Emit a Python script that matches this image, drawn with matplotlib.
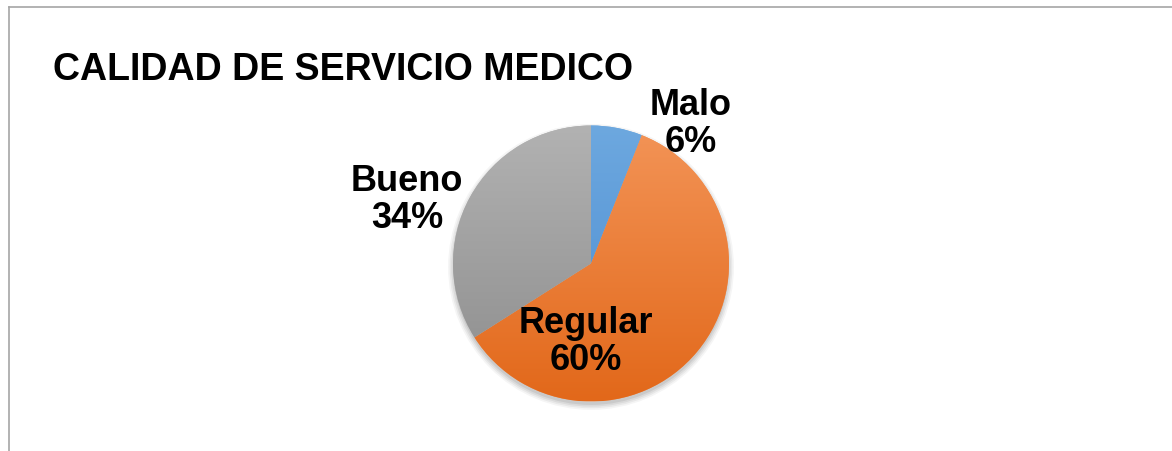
import matplotlib
matplotlib.use('Agg')
import matplotlib.pyplot as plt
import numpy as np
from matplotlib.colors import LinearSegmentedColormap
from matplotlib.lines import Line2D
from matplotlib.patches import Circle

categories = ['Malo', 'Regular', 'Bueno']
values = [6, 60, 34]
percent_labels = ['6%', '60%', '34%']
title = 'CALIDAD DE SERVICIO MEDICO'
top_colors = ['#6DA8DF', '#F39457', '#B2B2B2']
bottom_colors = ['#4A8BD0', '#E2681A', '#8C8C8C']

W, H = 1172, 451
fig = plt.figure(figsize=(W / 100, H / 100), dpi=100)
fig.patch.set_facecolor('white')

# chart area border (left and top visible)
fig.add_artist(Line2D([8.5 / W, 8.5 / W], [0, 1 - 6.5 / H], color='#A6A6A6', lw=1.2))
fig.add_artist(Line2D([8.5 / W, 1], [1 - 6.5 / H, 1 - 6.5 / H], color='#A6A6A6', lw=1.2))

FONT = 'Liberation Sans'
fig.text(53 / W, 1 - 80 / H, title, fontsize=27, fontweight='bold', family=FONT,
         ha='left', va='baseline', color='black')

cx, cy, r = 591, 263.5, 138
m = 1.15  # axes half-extent in radius units
ax = fig.add_axes([(cx - m * r) / W, (H - cy - m * r) / H, 2 * m * r / W, 2 * m * r / H])

# soft shadow
for i, a in enumerate([0.04, 0.05, 0.06, 0.07]):
    ax.add_patch(Circle((0, -0.025), 1.0 + 0.012 * (3 - i), color='black', alpha=a,
                        lw=0, zorder=0))

wedges, _ = ax.pie(values, startangle=90, counterclock=False, radius=1,
                   colors=top_colors, wedgeprops=dict(linewidth=0))

grad = np.linspace(0, 1, 256).reshape(-1, 1)
for w, tc, bc in zip(wedges, top_colors, bottom_colors):
    w.set_zorder(2)
    cmap = LinearSegmentedColormap.from_list('g', [bc, tc])
    im = ax.imshow(grad, extent=[-1, 1, -1, 1], origin='lower', cmap=cmap,
                   aspect='auto', zorder=3, interpolation='bilinear')
    im.set_clip_path(w)

ax.set_xlim(-m, m)
ax.set_ylim(-m, m)
ax.axis('off')

label_px = [(691, 124), (586, 342), (407, 200)]
for (px, py), cat, pct in zip(label_px, categories, percent_labels):
    ax.text((px - cx) / r, (cy - py) / r, f'{cat}\n{pct}', fontsize=26,
            fontweight='bold', family=FONT, ha='center', va='center',
            linespacing=1.1, color='black', zorder=5, clip_on=False)

fig.savefig('out.png', dpi=100, facecolor='white')
